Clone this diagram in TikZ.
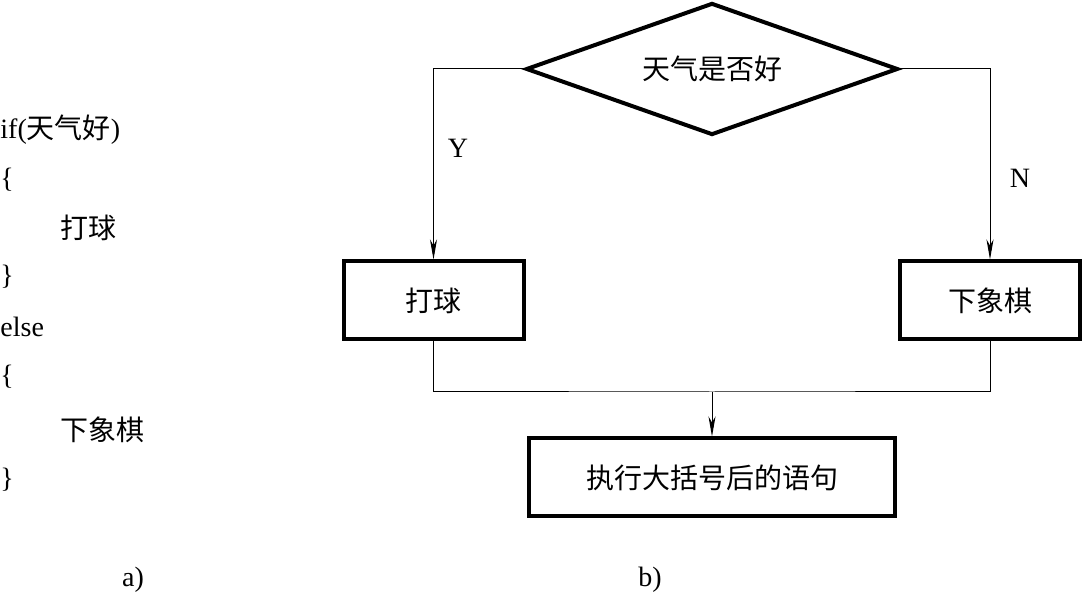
\documentclass[tikz,border=0pt]{standalone}
\usepackage{fontspec}
\setmainfont{Liberation Serif}
\newfontfamily\cjk{Noto Sans CJK SC}
\usetikzlibrary{shapes.geometric, positioning, arrows.meta}

\begin{document}
\begin{tikzpicture}[x=1pt, y=1pt, on grid, font=\fontsize{14}{17}\selectfont,
    box/.style={draw, line width=2pt, minimum width=90pt, minimum height=39pt, font=\fontsize{14}{17}\selectfont\cjk},
    decide/.style={draw, diamond, aspect=2.8, line width=2pt, minimum width=186pt, minimum height=66pt, inner sep=0pt, font=\fontsize{14}{17}\selectfont\cjk},
    flow/.style={line width=0.5pt, -{Stealth[length=10pt, width=3.5pt, inset=3pt]}},
    mergeline/.style={line width=0.5pt},
    code/.style={anchor=west, inner sep=0pt}]
    \useasboundingbox (0,0) rectangle (541.5,-298.5);

    \node[decide] (dia) at (356,-34.5) {天气是否好};
    \node[box] (play) [below left=115.75pt and 139.25pt of dia] {打球};
    \node[box] (chess) [below right=115.75pt and 139pt of dia] {下象棋};
    \node[box, minimum width=183pt] (next) [below=204.25pt of dia] {执行大括号后的语句};
    \coordinate (merge) at (356,-196);

    \node (lblY) at (229,-74) {Y};
    \node (lblN) at (510,-89) {N};

    \draw[flow] (dia.west) -| (play.north);
    \draw[flow] (dia.east) -| (chess.north);
    \draw[mergeline] (play.south) |- (merge) -| (chess.south);
    \draw[flow] (merge) -- (next.north);

    \node[code] (c1) at (0,-65) {if({\cjk 天气好})};
    \node[code] (c2) at (0,-90) {\{};
    \node[code] (c3) at (30,-114) {\cjk 打球};
    \node[code] (c4) at (0,-138.5) {\}};
    \node[code] (c5) at (0,-163.5) {else};
    \node[code] (c6) at (0,-188.5) {\{};
    \node[code] (c7) at (30,-215) {\cjk 下象棋};
    \node[code] (c8) at (0,-240) {\}};

    \node (capA) at (66.5,-290) {a)};
    \node (capB) at (325,-290) {b)};
\end{tikzpicture}
\end{document}
